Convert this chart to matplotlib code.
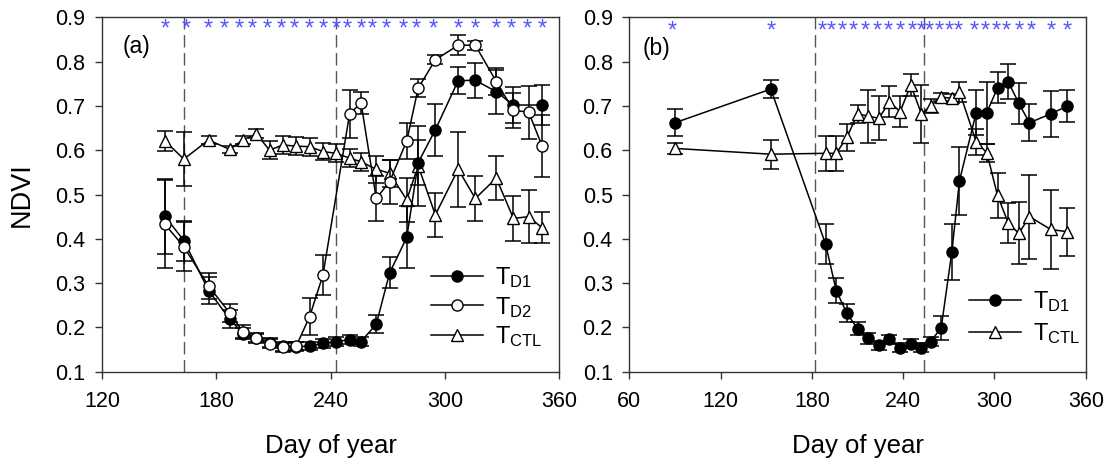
import matplotlib
matplotlib.use("Agg")
import matplotlib.pyplot as plt
import numpy as np

plt.rcParams['font.family'] = ['Liberation Sans', 'DejaVu Sans']
plt.rcParams['mathtext.fontset'] = 'custom'
plt.rcParams['mathtext.rm'] = 'Liberation Sans'
plt.rcParams['mathtext.it'] = 'Liberation Sans:italic'

# ---------------- Panel (a) data ----------------
days_a = [153, 163, 176, 187, 194, 201, 208, 215, 222, 229, 236, 243, 250, 256,
          264, 271, 280, 286, 295, 307, 316, 327, 336, 351]
td1_a = [0.451, 0.396, 0.283, 0.219, 0.186, 0.175, 0.165, 0.157, 0.156, 0.158,
         0.164, 0.168, 0.172, 0.168, 0.207, 0.323, 0.403, 0.572, 0.646, 0.757,
         0.758, 0.732, 0.702, 0.702]
td1_a_err = [0.085, 0.045, 0.03, 0.02, 0.012, 0.01, 0.01, 0.01, 0.01, 0.01,
             0.01, 0.01, 0.01, 0.01, 0.02, 0.035, 0.07, 0.05, 0.058, 0.03,
             0.04, 0.05, 0.04, 0.045]

days_d2_a = [153, 163, 176, 187, 194, 201, 208, 215, 222, 229, 236, 250, 256,
             264, 271, 280, 286, 295, 307, 316, 327, 336, 344, 351]
td2_a = [0.433, 0.382, 0.293, 0.233, 0.19, 0.177, 0.163, 0.155, 0.158, 0.224,
         0.318, 0.682, 0.707, 0.491, 0.529, 0.621, 0.74, 0.804, 0.837, 0.837,
         0.755, 0.69, 0.686, 0.61]
td2_a_err = [0.1, 0.055, 0.03, 0.02, 0.015, 0.01, 0.01, 0.01, 0.01, 0.042,
             0.045, 0.055, 0.025, 0.05, 0.05, 0.04, 0.02, 0.01, 0.023, 0.01,
             0.03, 0.04, 0.06, 0.07]

days_ctl_a = [153, 163, 176, 187, 194, 201, 208, 215, 222, 229, 236, 243, 250,
              256, 264, 271, 280, 286, 295, 307, 316, 327, 336, 344, 351]
tctl_a = [0.621, 0.58, 0.623, 0.602, 0.623, 0.637, 0.600, 0.612, 0.609, 0.608,
          0.597, 0.593, 0.582, 0.574, 0.557, 0.548, 0.488, 0.565, 0.454, 0.557,
          0.491, 0.537, 0.446, 0.45, 0.425]
tctl_a_err = [0.023, 0.06, 0.01, 0.008, 0.01, 0.01, 0.02, 0.02, 0.02, 0.02,
              0.02, 0.02, 0.02, 0.02, 0.03, 0.03, 0.05, 0.09, 0.05, 0.085,
              0.05, 0.05, 0.05, 0.06, 0.035]

stars_a = [153, 164, 176, 184, 192, 199, 207, 214, 221, 229, 236, 243, 249, 256,
           262, 269, 278, 285, 294, 307, 316, 327, 335, 343, 351]
dashed_a = [163, 243]

# ---------------- Panel (b) data ----------------
days_b = [90, 153, 189, 196, 203, 210, 217, 224, 231, 238, 245, 252, 258, 265,
          272, 277, 288, 295, 302, 309, 316, 323, 337, 348]
td1_b = [0.662, 0.738, 0.388, 0.283, 0.232, 0.197, 0.175, 0.16, 0.173, 0.154,
         0.163, 0.154, 0.168, 0.199, 0.371, 0.531, 0.685, 0.685, 0.741, 0.755,
         0.706, 0.662, 0.682, 0.70]
td1_b_err = [0.03, 0.02, 0.045, 0.028, 0.02, 0.015, 0.012, 0.01, 0.01, 0.01,
             0.01, 0.01, 0.01, 0.027, 0.063, 0.077, 0.05, 0.07, 0.035, 0.04,
             0.046, 0.042, 0.052, 0.037]
tctl_b = [0.604, 0.591, 0.593, 0.593, 0.629, 0.682, 0.677, 0.672, 0.709, 0.687,
          0.747, 0.682, 0.70, 0.72, 0.717, 0.732, 0.619, 0.594, 0.498, 0.436,
          0.412, 0.45, 0.421, 0.416]
tctl_b_err = [0.013, 0.033, 0.04, 0.04, 0.03, 0.02, 0.06, 0.05, 0.035, 0.035,
              0.025, 0.065, 0.015, 0.01, 0.01, 0.023, 0.03, 0.02, 0.05, 0.045,
              0.07, 0.095, 0.09, 0.054]

stars_b = [88, 153, 187, 193, 200, 207, 215, 223, 230, 238, 246, 252, 257, 264,
           270, 276, 287, 294, 301, 308, 316, 324, 337, 348]
dashed_b = [182, 254]

yticks = [0.1, 0.2, 0.3, 0.4, 0.5, 0.6, 0.7, 0.8, 0.9]
xticks_a = [120, 180, 240, 300, 360]
xticks_b = [60, 120, 180, 240, 300, 360]

# ---------------- Figure ----------------
fig = plt.figure(figsize=(11.07, 4.62), dpi=100)
ax_a = fig.add_axes([0.0921, 0.1955, 0.4130, 0.767])
ax_b = fig.add_axes([0.5685, 0.1955, 0.4123, 0.767])

STAR_BLUE = '#5454ff'
spine_col = '#333333'


def errline(ax, x, y, e, face, marker, ms, z, label):
    ax.errorbar(x, y, yerr=e, fmt='none', ecolor='black', elinewidth=1.1,
                capsize=6, capthick=1.1, zorder=z)
    line, = ax.plot(x, y, color='black', lw=1.1, marker=marker, ms=ms,
                    mfc=face, mec='black', mew=1.0, zorder=z + 0.5, label=label)
    return line


def style_axes(ax, xlim, xticks):
    ax.set_xlim(*xlim)
    ax.set_ylim(0.1, 0.9)
    ax.set_xticks(xticks)
    ax.set_yticks(yticks)
    ax.set_yticklabels([f'{t:.1f}' for t in yticks])
    ax.tick_params(direction='out', length=5, width=1.0, labelsize=15.5,
                   color=spine_col)
    ax.tick_params(axis='x', pad=9)
    ax.tick_params(axis='y', pad=7)
    for s in ax.spines.values():
        s.set_color(spine_col)
        s.set_linewidth(1.0)
    ax.set_xlabel('Day of year', fontsize=18.5, labelpad=16)


# Panel (a)
for d in dashed_a:
    ax_a.axvline(d, color='#555555', lw=1.0, dashes=(9, 4), zorder=1)
l_ctl_a = errline(ax_a, days_ctl_a, tctl_a, tctl_a_err, 'white', '^', 8.5, 2, r'T$_{\rm CTL}$')
l_d1_a = errline(ax_a, days_a, td1_a, td1_a_err, 'black', 'o', 8, 3, r'T$_{\rm D1}$')
l_d2_a = errline(ax_a, days_d2_a, td2_a, td2_a_err, 'white', 'o', 8, 4, r'T$_{\rm D2}$')
for d in stars_a:
    ax_a.text(d, 0.873, '*', color=STAR_BLUE, fontsize=17,
              ha='center', va='center', zorder=6)
style_axes(ax_a, (120, 360), xticks_a)
ax_a.set_ylabel('NDVI', fontsize=19.5, labelpad=15)
ax_a.text(0.045, 0.918, '(a)', transform=ax_a.transAxes, fontsize=16.5,
          ha='left', va='center')
ax_a.legend(handles=[l_d1_a, l_d2_a, l_ctl_a], loc='center left',
            bbox_to_anchor=(0.72, 0.182), frameon=False, fontsize=17,
            handlelength=2.2, handletextpad=0.5, labelspacing=0.2,
            borderpad=0, borderaxespad=0)

# Panel (b)
for d in dashed_b:
    ax_b.axvline(d, color='#555555', lw=1.0, dashes=(9, 4), zorder=1)
l_ctl_b = errline(ax_b, days_b, tctl_b, tctl_b_err, 'white', '^', 8.5, 2, r'T$_{\rm CTL}$')
l_d1_b = errline(ax_b, days_b, td1_b, td1_b_err, 'black', 'o', 8, 3, r'T$_{\rm D1}$')
for d in stars_b:
    ax_b.text(d, 0.868, '*', color=STAR_BLUE, fontsize=17,
              ha='center', va='center', zorder=6)
style_axes(ax_b, (60, 360), xticks_b)
ax_b.text(0.03, 0.912, '(b)', transform=ax_b.transAxes, fontsize=16.5,
          ha='left', va='center')
ax_b.legend(handles=[l_d1_b, l_ctl_b], loc='center left',
            bbox_to_anchor=(0.745, 0.153), frameon=False, fontsize=17,
            handlelength=2.2, handletextpad=0.5, labelspacing=0.3,
            borderpad=0, borderaxespad=0)

fig.savefig('out.png', dpi=100)
